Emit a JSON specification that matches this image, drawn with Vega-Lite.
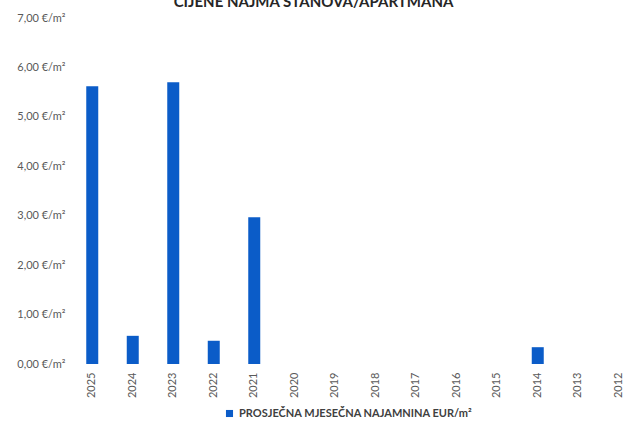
{
  "$schema": "https://vega.github.io/schema/vega-lite/v6.json",
  "autosize": "none",
  "padding": {"left": 72, "top": 18, "right": 0, "bottom": 61},
  "width": 567,
  "height": 346,
  "background": "white",
  "title": {
    "text": "CIJENE NAJMA STANOVA/APARTMANA",
    "font": "Lato",
    "fontSize": 15,
    "fontWeight": "bold",
    "color": "#262626",
    "anchor": "middle",
    "baseline": "alphabetic",
    "dx": -42,
    "dy": 15,
    "offset": 5
  },
  "config": {
    "view": {"stroke": null},
    "font": "Lato"
  },
  "data": {
    "values": [
      {"year": "2025", "value": 5.62, "series": "PROSJEČNA MJESEČNA NAJAMNINA EUR/m²"},
      {"year": "2024", "value": 0.57, "series": "PROSJEČNA MJESEČNA NAJAMNINA EUR/m²"},
      {"year": "2023", "value": 5.7, "series": "PROSJEČNA MJESEČNA NAJAMNINA EUR/m²"},
      {"year": "2022", "value": 0.47, "series": "PROSJEČNA MJESEČNA NAJAMNINA EUR/m²"},
      {"year": "2021", "value": 2.97, "series": "PROSJEČNA MJESEČNA NAJAMNINA EUR/m²"},
      {"year": "2014", "value": 0.34, "series": "PROSJEČNA MJESEČNA NAJAMNINA EUR/m²"}
    ]
  },
  "mark": {"type": "bar", "width": 12},
  "encoding": {
    "x": {
      "field": "year",
      "type": "ordinal",
      "scale": {"domain": ["2025","2024","2023","2022","2021","2020","2019","2018","2017","2016","2015","2014","2013","2012"], "paddingInner": 0, "paddingOuter": 0},
      "axis": {
        "title": null,
        "labelAngle": -90,
        "labelFontSize": 11,
        "labelColor": "#595959",
        "domain": false,
        "ticks": false,
        "labelPadding": 8
      }
    },
    "y": {
      "field": "value",
      "type": "quantitative",
      "scale": {"domain": [0, 7], "nice": false},
      "axis": {
        "title": null,
        "values": [0,1,2,3,4,5,6,7],
        "labelExpr": "replace(format(datum.value, '.2f'), '.', ',') + ' €/m²'",
        "labelFontSize": 11,
        "labelColor": "#595959",
        "domain": false,
        "ticks": false,
        "grid": false,
        "labelPadding": 7
      }
    },
    "color": {
      "field": "series",
      "type": "nominal",
      "scale": {"range": ["#0B5CC8"]},
      "legend": {
        "title": null,
        "orient": "none",
        "legendX": 152,
        "legendY": 390,
        "symbolType": "square",
        "symbolSize": 50,
        "labelFontSize": 11,
        "labelFontWeight": "bold",
        "labelColor": "#404040",
        "labelLimit": 400
      }
    }
  }
}
